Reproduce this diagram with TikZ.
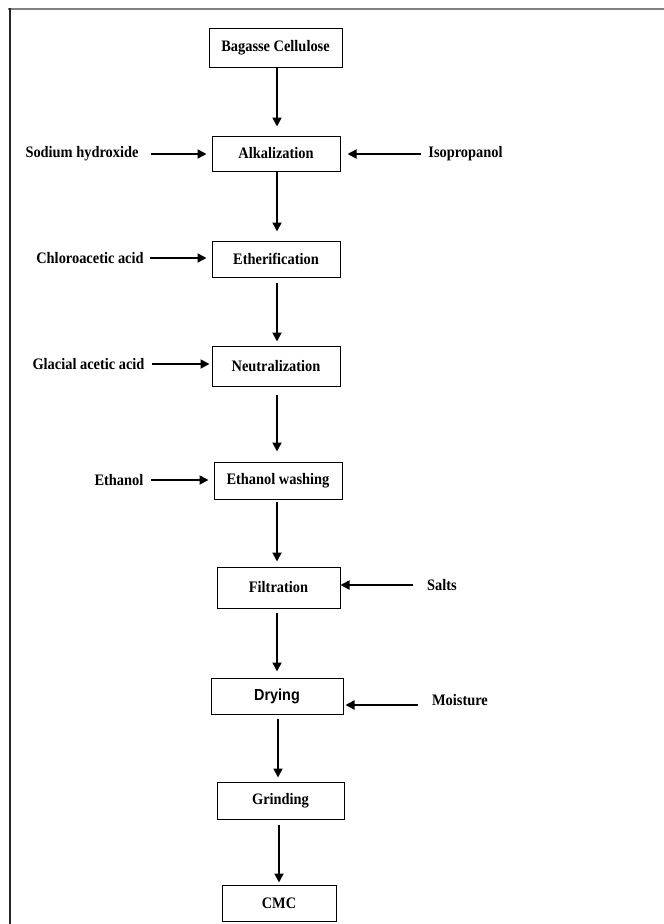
\documentclass[tikz,border=0pt]{standalone}
\usepackage{fontspec}
\setmainfont[FakeStretch=0.9]{Liberation Serif}
\newfontfamily\arialfont[FakeStretch=0.9]{Liberation Sans}
\usetikzlibrary{arrows.meta,calc}
\begin{document}
\begin{tikzpicture}[x=1pt,y=-1pt,
  every node/.style={font=\fontsize{16}{18}\selectfont\bfseries},
  stepbox/.style={draw=black,line width=1pt,inner sep=0pt,anchor=center},
  lbl/.style={inner sep=0pt,anchor=center},
  arr/.style={line width=1.8pt,-{Triangle[length=9pt,width=9pt]}}]
\useasboundingbox (0,0) rectangle (664,924);
% frame
\draw[line width=2pt,draw=gray] (8,9) -- (664,9);
\draw[line width=2pt,draw=black!85] (9.5,8) -- (9.5,924);
% boxes
\node[stepbox,minimum width=133pt,minimum height=39pt] (bag) at (275.5,47.5) {Bagasse Cellulose};
\node[stepbox,minimum width=128pt,minimum height=35pt] (alk) at (276,153.5) {Alkalization};
\node[stepbox,minimum width=128pt,minimum height=36pt] (eth) at (276,259) {Etherification};
\node[stepbox,minimum width=128pt,minimum height=40pt] (neu) at (276,366) {Neutralization};
\node[stepbox,minimum width=128pt,minimum height=37pt] (ewa) at (278,480.5) {Ethanol washing};
\node[stepbox,minimum width=123pt,minimum height=41pt] (fil) at (278.5,587.5) {Filtration};
\node[stepbox,minimum width=132pt,minimum height=36pt,font=\fontsize{16}{18}\arialfont\bfseries] (dry) at (277,696) {Drying};
\node[stepbox,minimum width=127pt,minimum height=37pt] (gri) at (280.5,800.5) {Grinding};
\node[stepbox,minimum width=114pt,minimum height=36pt] (cmc) at (279,903) {CMC};
% side labels
\node[lbl] (sod) at (82,154) {Sodium hydroxide};
\node[lbl] (iso) at (465.5,154) {Isopropanol};
\node[lbl] (chl) at (90,258) {Chloroacetic acid};
\node[lbl] (gla) at (88.5,364) {Glacial acetic acid};
\node[lbl] (eol) at (119,480) {Ethanol};
\node[lbl] (sal) at (442,585) {Salts};
\node[lbl] (moi) at (460,700) {Moisture};
% axis coordinates for vertical arrows
\coordinate (ax1) at (277,0);
\coordinate (ax2) at (278,0);
\coordinate (ax3) at (279,0);
% main flow arrows
\draw[arr,shorten >=9pt] (bag.south -| ax1) -- (alk.north -| ax1);
\draw[arr,shorten >=9pt] (alk.south -| ax1) -- (eth.north -| ax1);
\draw[arr,shorten <=5pt,shorten >=4pt] (eth.south -| ax1) -- (neu.north -| ax1);
\draw[arr,shorten <=8pt,shorten >=10pt] (neu.south -| ax1) -- (ewa.north -| ax1);
\draw[arr,shorten <=2pt,shorten >=5pt] (ewa.south -| ax1) -- (fil.north -| ax1);
\draw[arr,shorten <=4pt,shorten >=6pt] (fil.south -| ax1) -- (dry.north -| ax1);
\draw[arr,shorten <=4pt,shorten >=4pt] (dry.south -| ax2) -- (gri.north -| ax2);
\draw[arr,shorten <=5pt,shorten >=2pt] (gri.south -| ax3) -- (cmc.north -| ax3);
% side arrows
\draw[arr,shorten <=12pt,shorten >=5pt] (sod.east) -- (sod.east -| alk.west);
\draw[arr,shorten <=7pt,shorten >=7pt] (iso.west) -- (iso.west -| alk.east);
\draw[arr,shorten <=6pt,shorten >=5pt] (chl.east) -- (chl.east -| eth.west);
\draw[arr,shorten <=7pt,shorten >=2pt] (gla.east) -- (gla.east -| neu.west);
\draw[arr,shorten <=7pt,shorten >=5pt] (eol.east) -- (eol.east -| ewa.west);
\draw[arr,shorten <=14pt,shorten >=0pt] (sal.west) -- (sal.west -| fil.east);
\coordinate (mo) at (418,705);
\draw[arr,shorten >=2pt] (mo) -- (mo -| dry.east);
\end{tikzpicture}
\end{document}
